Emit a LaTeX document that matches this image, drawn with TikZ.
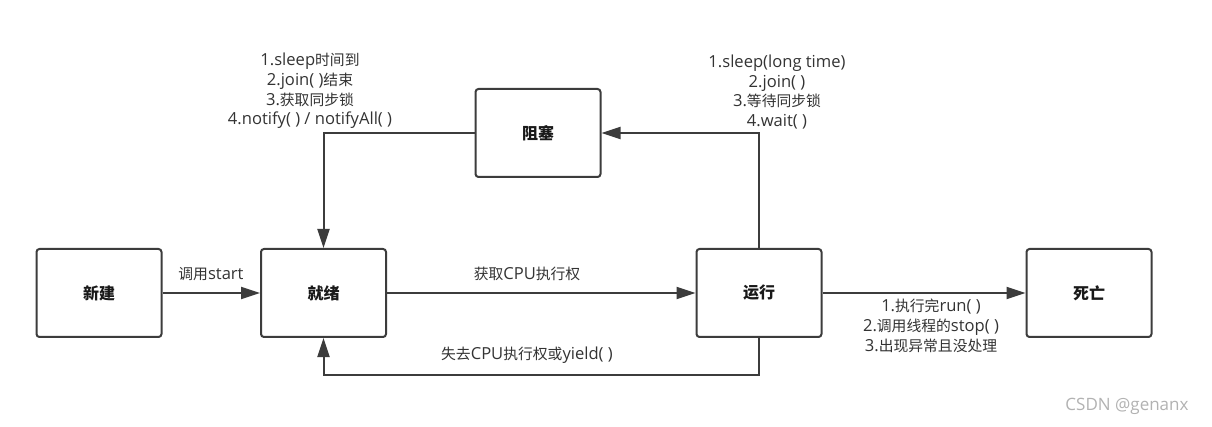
\documentclass[tikz,border=0pt]{standalone}
\usepackage{fontspec}
\setmainfont{Noto Sans CJK SC}
\newfontfamily\wmfont{Open Sans}
\newfontfamily\lt[Scale=1.12]{Open Sans}
\usetikzlibrary{arrows.meta}
\definecolor{ln}{HTML}{3C3C3C}
\definecolor{tx}{HTML}{333333}
\begin{document}
\begin{tikzpicture}[x=1pt,y=-1pt,
  state/.style={draw=ln,line width=2pt,rounded corners=3pt,minimum width=125pt,minimum height=88pt,inner sep=0pt,font=\fontsize{16}{18}\selectfont\bfseries,text=black!90},
  conn/.style={draw=ln,line width=2pt,-{Triangle[length=19pt,width=12pt]}},
  lbl/.style={text=tx,font=\fontsize{14.8}{19.7}\selectfont,align=center,inner sep=0pt}]
\useasboundingbox[fill=white] (0,0) rectangle (1212,427);
\node[state] (xj) at (99,293) {新建};
\node[state] (jx) at (323.5,293) {就绪};
\node[state] (yx) at (759,293) {运行};
\node[state] (sw) at (1089,293) {死亡};
\node[state] (zs) at (538,133) {阻塞};
\coordinate (b) at (759,375);
\draw[conn] (xj) -- (jx);
\draw[conn] (jx) -- (yx);
\draw[conn] (yx) -- (sw);
\draw[conn] (zs.west) -| (jx.north);
\draw[conn] (yx.north) |- (zs.east);
\draw[conn] (yx.south) -- (b) -| (jx.south);
\node[lbl] (l1) at (211,274) {调用{\lt start}};
\node[lbl] (l2) at (527,274) {获取{\lt CPU}执行权};
\node[lbl] (l3) at (527,355) {失去{\lt CPU}执行权或{\lt yield( )}};
\node[lbl] (l4) at (931,326) {{\lt 1.}执行完{\lt run( )}\\{\lt 2.}调用线程的{\lt stop( )}\\{\lt 3.}出现异常且没处理};
\node[lbl] (l5) at (310,91) {{\lt 1.sleep}时间到\\{\lt 2.join( )}结束\\{\lt 3.}获取同步锁\\{\lt 4.notify( ) / notifyAll( )}};
\node[lbl] (l6) at (777,92) {{\lt 1.sleep(long time)}\\{\lt 2.join( )}\\{\lt 3.}等待同步锁\\{\lt 4.wait( )}};
\node[text=black!30,font=\wmfont\fontsize{17}{20}\selectfont,inner sep=0pt] (wm) at (1127,406) {CSDN @genanx};
\end{tikzpicture}
\end{document}
